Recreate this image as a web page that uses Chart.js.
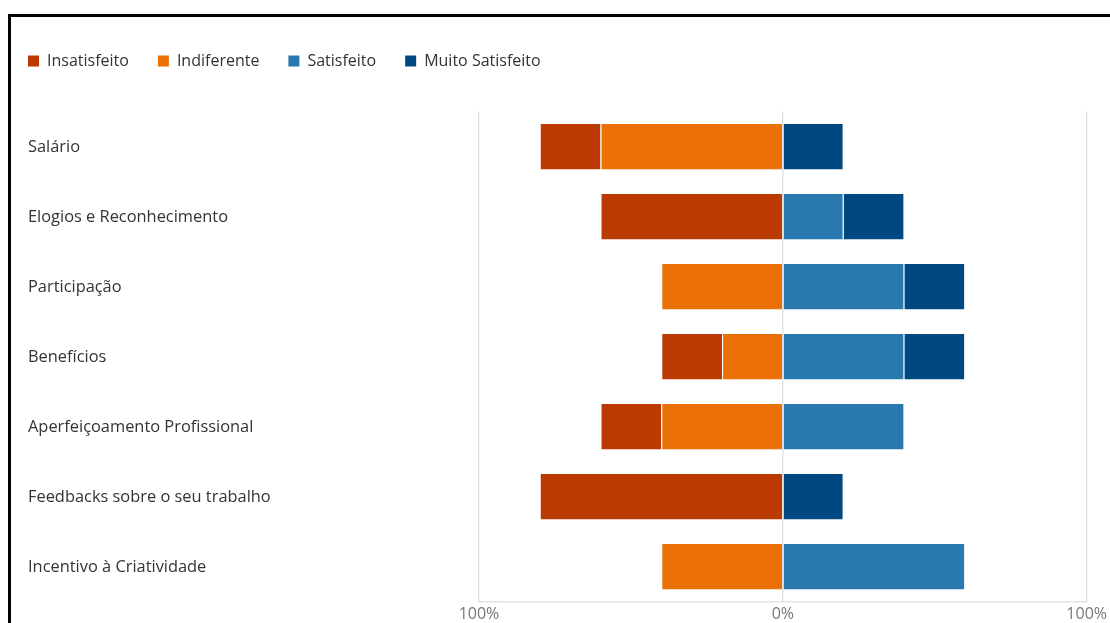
<!DOCTYPE html>
<html>
<head>
<meta charset="utf-8">
<script src="https://cdn.jsdelivr.net/npm/chart.js@4/dist/chart.umd.min.js"></script>
<style>
  html, body { margin: 0; padding: 0; background: #fff; overflow: hidden; }
  #wrap { position: relative; width: 1110px; height: 623px; }
  #frame { position: absolute; left: 8px; top: 14px; width: 2000px; height: 2000px;
           border-left: 3px solid #000; border-top: 3px solid #000; box-sizing: border-box; }
  #c { position: absolute; left: 0; top: 0; }
</style>
</head>
<body>
<div id="wrap">
  <div id="frame"></div>
  <canvas id="c" width="1110" height="623"></canvas>
</div>
<script>
const categories = ['Salário', 'Elogios e Reconhecimento', 'Participação', 'Benefícios',
  'Aperfeiçoamento Profissional', 'Feedbacks sobre o seu trabalho', 'Incentivo à Criatividade'];
const insatisfeito    = [20, 60, null, 20, 20, 80, null];
const indiferente     = [60, null, 40, 20, 40, null, 40];
const satisfeito      = [null, 20, 40, 40, 40, null, 60];
const muitoSatisfeito = [20, 20, 20, 20, null, 20, null];
const xTicks = [-100, 0, 100];
const legendOrder = ['Insatisfeito', 'Indiferente', 'Satisfeito', 'Muito Satisfeito'];

const neg = arr => arr.map(v => v === null ? null : -v);
const FONT = "'Open Sans', 'Noto Sans', sans-serif";

const legendShift = {
  id: 'legendShift',
  beforeInit(chart) {
    const lg = chart.legend;
    const origFit = lg.fit;
    lg.fit = function () { origFit.call(this); this.height += 32.5; };
  },
  afterLayout(chart) {
    chart.legend.left -= 29;
  }
};

new Chart(document.getElementById('c'), {
  type: 'bar',
  data: {
    labels: categories,
    datasets: [
      { label: 'Indiferente', data: neg(indiferente), backgroundColor: '#EB7005', borderColor: 'rgba(255,255,255,0.35)', borderWidth: 1 },
      { label: 'Insatisfeito', data: neg(insatisfeito), backgroundColor: '#BA3A02', borderColor: 'rgba(255,255,255,0.35)', borderWidth: 1 },
      { label: 'Satisfeito', data: satisfeito, backgroundColor: '#2A78B0', borderColor: 'rgba(255,255,255,0.35)', borderWidth: 1 },
      { label: 'Muito Satisfeito', data: muitoSatisfeito, backgroundColor: '#004881', borderColor: 'rgba(255,255,255,0.35)', borderWidth: 1 }
    ]
  },
  options: {
    indexAxis: 'y',
    responsive: false,
    animation: false,
    devicePixelRatio: 1,
    layout: { padding: { left: 28, right: 23, top: 24, bottom: 0 } },
    datasets: { bar: { categoryPercentage: 1, barPercentage: 0.675 } },
    plugins: {
      tooltip: { enabled: false },
      legend: {
        position: 'top',
        align: 'start',
        labels: {
          boxWidth: 11, boxHeight: 11, padding: 29,
          color: '#333', font: { family: FONT, size: 16 },
          sort: (a, b) => legendOrder.indexOf(a.text) - legendOrder.indexOf(b.text),
          generateLabels(chart) {
            const items = Chart.defaults.plugins.legend.labels.generateLabels(chart);
            items.forEach(it => { it.lineWidth = 0; it.strokeStyle = 'rgba(0,0,0,0)'; });
            return items;
          }
        }
      }
    },
    scales: {
      x: {
        stacked: true,
        min: -100, max: 100,
        afterBuildTicks(scale) { scale.ticks = xTicks.map(v => ({ value: v })); },
        afterFit(scale) { scale.height = 21.5; },
        ticks: {
          callback: v => Math.abs(v) + '%',
          color: '#777', font: { family: FONT, size: 16 }, padding: 3, maxRotation: 0
        },
        grid: { color: '#e3e3e3', drawTicks: false, lineWidth: 1.5 },
        border: { display: true, color: '#e3e3e3', width: 1.5 }
      },
      y: {
        stacked: true,
        afterFit(scale) { scale.width = 451; },
        ticks: { crossAlign: 'far', color: '#333', labelOffset: 1, font: { family: FONT, size: 16.4 } },
        grid: { display: false },
        border: { display: false }
      }
    }
  },
  plugins: [legendShift]
});
</script>
</body>
</html>
